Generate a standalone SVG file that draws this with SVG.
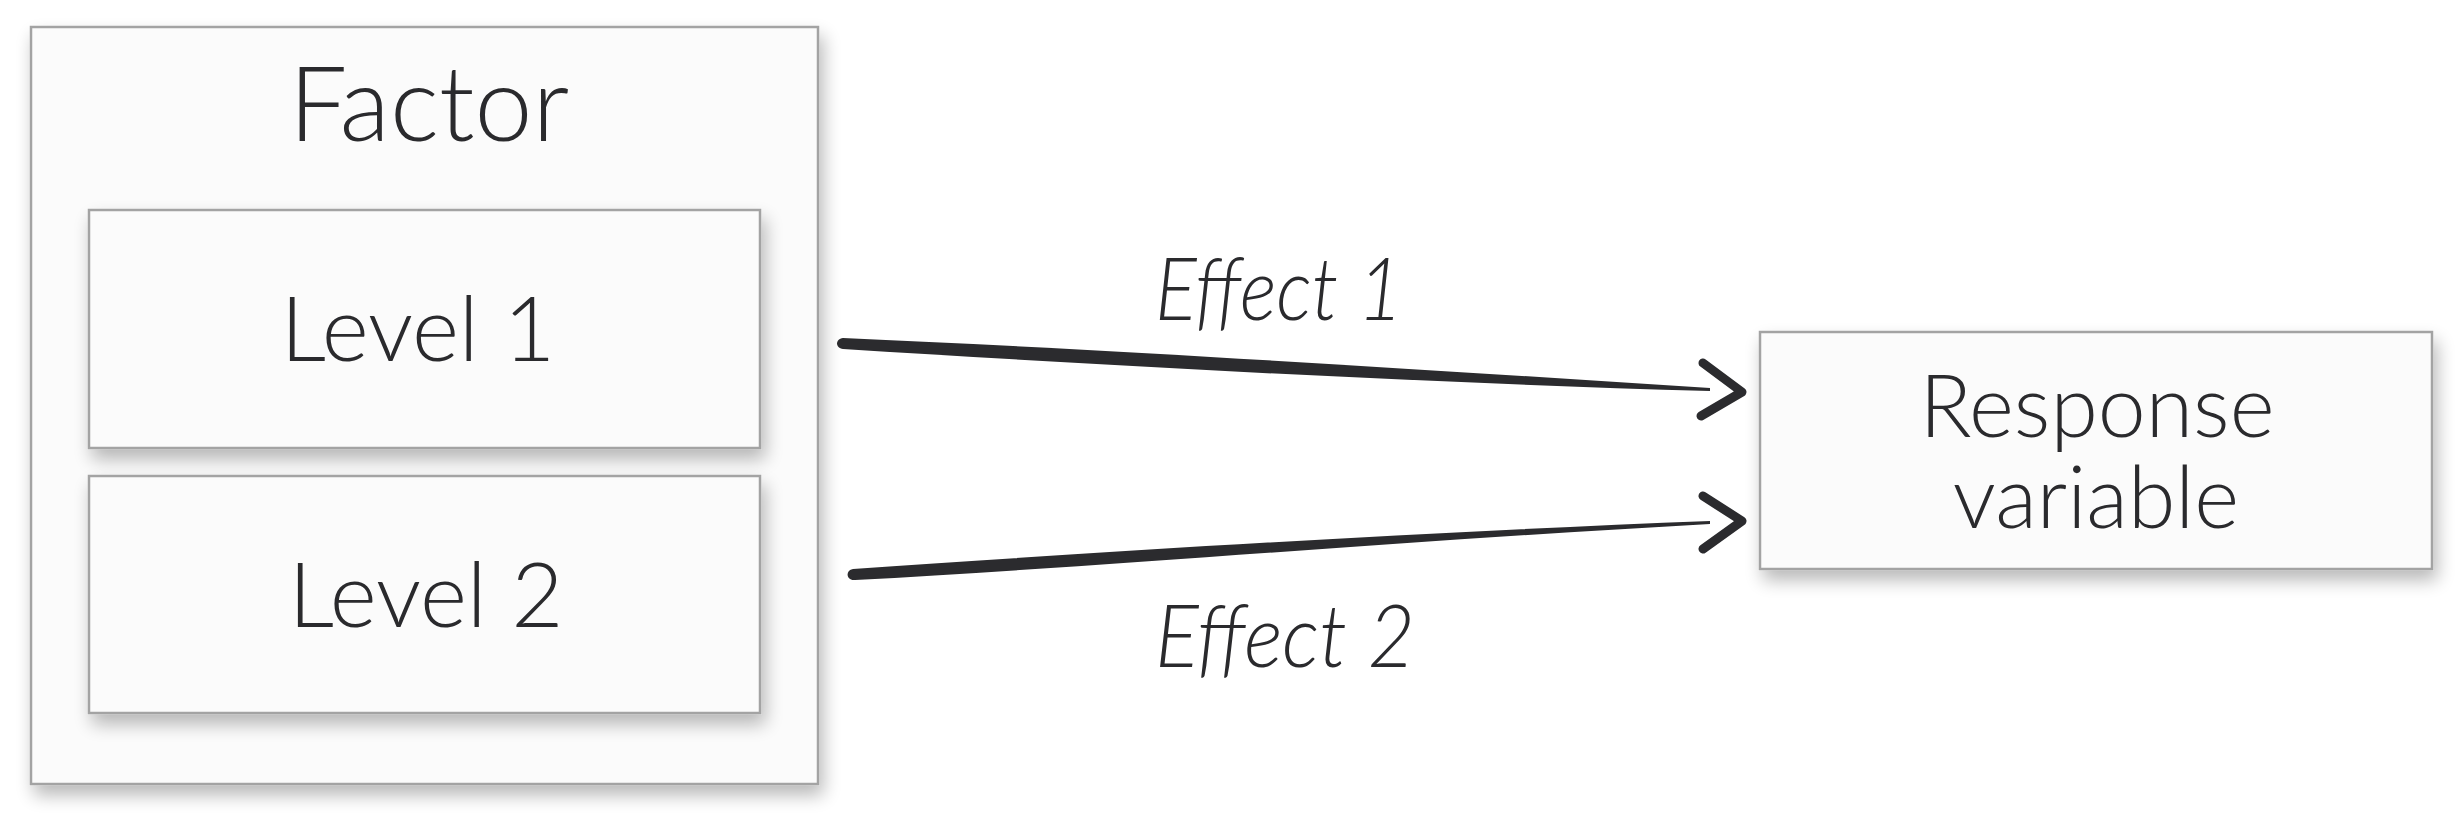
<svg xmlns="http://www.w3.org/2000/svg" width="2456" height="821" viewBox="0 0 2456 821">
<defs>
<filter id="sh" x="-10%" y="-10%" width="120%" height="130%">
<feGaussianBlur in="SourceAlpha" stdDeviation="9" result="b"/>
<feOffset in="b" dx="4" dy="10" result="o"/>
<feComponentTransfer in="o" result="s"><feFuncA type="linear" slope="0.28"/></feComponentTransfer>
<feMerge><feMergeNode in="s"/><feMergeNode in="SourceGraphic"/></feMerge>
</filter>
<style>
.box{fill:#fbfbfb;stroke:#a3a3a3;stroke-width:2.5;filter:url(#sh)}
.t{font-family:"Lato","Open Sans","Liberation Sans",sans-serif;font-weight:300;fill:#2a2a2d;text-anchor:middle}
.e{font-family:"Lato","Open Sans","Liberation Sans",sans-serif;font-weight:300;font-style:italic;fill:#2a2a2d}
.brush{fill:#2b2b2e}
.head{fill:none;stroke:#2b2b2e;stroke-width:9;stroke-linecap:round;stroke-linejoin:round}
</style>
</defs>
<rect width="2456" height="821" fill="#ffffff"/>
<g id="factor">
<rect class="box" x="31" y="27" width="787" height="757"/>
<text class="t" x="429" y="141" font-size="104">Factor</text>
</g>
<g id="level1">
<rect class="box" x="89" y="210" width="671" height="238"/>
<text class="t" x="418" y="361" font-size="90">Level 1</text>
</g>
<g id="level2">
<rect class="box" x="89" y="476" width="671" height="237"/>
<text class="t" x="426" y="627" font-size="90">Level 2</text>
</g>
<g id="response">
<rect class="box" x="1760" y="332" width="672" height="237"/>
<text class="t" x="2097" y="437" font-size="86">Response</text>
<text class="t" x="2096" y="528" font-size="86">variable</text>
</g>
<g id="connectors">
<path class="brush" d="M843,338 C1100,349 1400,368 1710,388 L1710,391 C1400,382 1100,365 843,349 C835,348 835,339 843,338 Z"/>
<path class="head" d="M1703,363 L1742,392 L1701,416"/>
<path class="brush" d="M853,569 C1100,552 1400,533 1710,521 L1710,524 C1400,541 1100,567 855,580 C846,581 845,570 853,569 Z"/>
<path class="head" d="M1703,496 L1742,521 L1703,549"/>
<text class="e" x="1155" y="320" font-size="86" textLength="248" lengthAdjust="spacingAndGlyphs">Effect 1</text>
<text class="e" x="1155" y="667" font-size="86" textLength="260" lengthAdjust="spacingAndGlyphs">Effect 2</text>
</g>
</svg>
